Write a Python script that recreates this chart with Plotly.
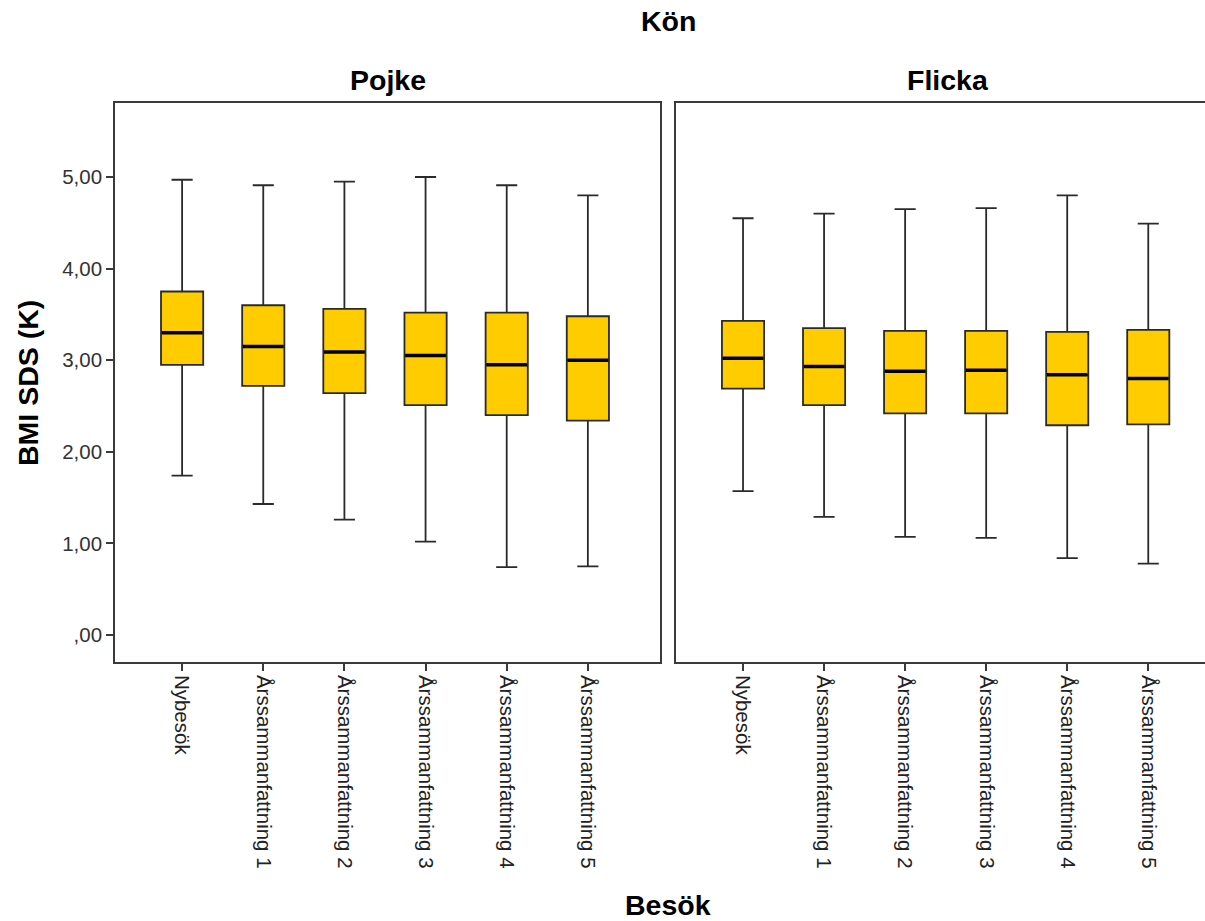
import plotly.graph_objects as go

categories = ["Nybesök", "Årssammanfattning 1", "Årssammanfattning 2",
              "Årssammanfattning 3", "Årssammanfattning 4", "Årssammanfattning 5"]

# Pojke
pojke_upper = [4.97, 4.91, 4.95, 5.00, 4.91, 4.80]
pojke_q3 = [3.75, 3.60, 3.56, 3.52, 3.52, 3.48]
pojke_median = [3.30, 3.15, 3.09, 3.05, 2.95, 3.00]
pojke_q1 = [2.95, 2.72, 2.64, 2.51, 2.40, 2.34]
pojke_lower = [1.74, 1.43, 1.26, 1.02, 0.74, 0.75]

# Flicka
flicka_upper = [4.55, 4.60, 4.65, 4.66, 4.80, 4.49]
flicka_q3 = [3.43, 3.35, 3.32, 3.32, 3.31, 3.33]
flicka_median = [3.02, 2.93, 2.88, 2.89, 2.84, 2.80]
flicka_q1 = [2.69, 2.51, 2.42, 2.42, 2.29, 2.30]
flicka_lower = [1.57, 1.29, 1.07, 1.06, 0.84, 0.78]

y_tickvals = [0, 1, 2, 3, 4, 5]
y_ticktext = [",00", "1,00", "2,00", "3,00", "4,00", "5,00"]

panels = ["Pojke", "Flicka"]

W, H = 1205, 921
FONT = "Liberation Sans, Arial, sans-serif"
FILL = "#FFCC00"
EDGE = "#2a2a2a"
AXIS = "#3a3a3a"
BOXW = 0.52

fig = go.Figure()
xs = list(range(len(categories)))

data = [
    (pojke_lower, pojke_q1, pojke_median, pojke_q3, pojke_upper, "x", "y"),
    (flicka_lower, flicka_q1, flicka_median, flicka_q3, flicka_upper, "x2", "y2"),
]
for lo, q1, med, q3, up, xa, ya in data:
    fig.add_trace(go.Box(
        x=xs, lowerfence=lo, q1=q1, median=med, q3=q3, upperfence=up,
        xaxis=xa, yaxis=ya, fillcolor=FILL,
        line=dict(color=EDGE, width=1.8), width=BOXW, whiskerwidth=0.5,
        boxpoints=False, showlegend=False, hoverinfo="skip"))
    mx, my = [], []
    for i, m in zip(xs, med):
        mx += [i - BOXW / 2 + 0.01, i + BOXW / 2 - 0.01, None]
        my += [m, m, None]
    fig.add_trace(go.Scatter(x=mx, y=my, mode="lines", xaxis=xa, yaxis=ya,
                             line=dict(color="black", width=3.5),
                             showlegend=False, hoverinfo="skip"))

def px_x(p):
    return p / W

def px_y(p):
    return 1 - p / H

x1_dom = [px_x(115), px_x(660)]
x2_dom = [px_x(676), 1.0]
y_dom = [px_y(662), px_y(103)]

xcommon = dict(tickmode="array", tickvals=xs, ticktext=categories, tickangle=90,
               showline=True, linecolor=AXIS, linewidth=1.6, mirror=True,
               ticks="outside", ticklen=7, tickwidth=1.5, tickcolor=AXIS,
               showgrid=False, zeroline=False,
               tickfont=dict(family=FONT, size=20.5, color="#222"))

fig.update_layout(
    width=W, height=H, margin=dict(l=0, r=0, t=0, b=0),
    paper_bgcolor="white", plot_bgcolor="white",
    xaxis=dict(domain=x1_dom, range=[-0.827, 5.889], anchor="y", **xcommon),
    xaxis2=dict(domain=x2_dom, range=[-0.827, 5.70], anchor="y2", **xcommon),
    yaxis=dict(domain=y_dom, range=[-0.295, 5.808], anchor="x",
               tickmode="array", tickvals=y_tickvals, ticktext=y_ticktext,
               showline=True, linecolor=AXIS, linewidth=1.6, mirror=True,
               ticks="outside", ticklen=7, tickwidth=1.5, tickcolor=AXIS,
               showgrid=False, zeroline=False,
               tickfont=dict(family=FONT, size=20.5, color="#333")),
    yaxis2=dict(domain=y_dom, range=[-0.295, 5.808], anchor="x2",
                showticklabels=False, ticks="", showline=True, linecolor=AXIS,
                linewidth=1.6, mirror=False, showgrid=False, zeroline=False),
)

ann_font = dict(family=FONT, size=28.5, color="black")
fig.add_annotation(text="<b>Kön</b>", x=668 / W, y=px_y(21), xref="paper", yref="paper",
                   showarrow=False, font=ann_font, xanchor="center", yanchor="middle")
fig.add_annotation(text="<b>" + panels[0] + "</b>", x=387.5 / W, y=px_y(80), xref="paper",
                   yref="paper", showarrow=False, font=ann_font, xanchor="center", yanchor="middle")
fig.add_annotation(text="<b>" + panels[1] + "</b>", x=948 / W, y=px_y(80), xref="paper",
                   yref="paper", showarrow=False, font=ann_font, xanchor="center", yanchor="middle")
fig.add_annotation(text="<b>Besök</b>", x=668 / W, y=px_y(905), xref="paper", yref="paper",
                   showarrow=False, font=ann_font, xanchor="center", yanchor="middle")
fig.add_annotation(text="<b>BMI SDS (K)</b>", x=28 / W, y=px_y(383), xref="paper",
                   yref="paper", showarrow=False, font=ann_font, textangle=-90,
                   xanchor="center", yanchor="middle")

fig.write_html("out.html")
